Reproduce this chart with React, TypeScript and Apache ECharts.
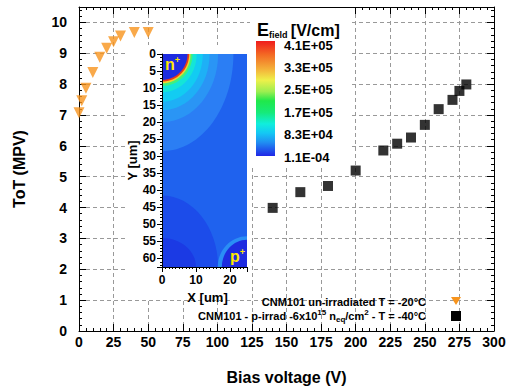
import React, { useEffect, useRef } from "react";
import * as echarts from "echarts";

// ---- main data ----
const unirrBias = [0, 2, 5, 10, 15, 20, 25, 30, 40, 50];
const unirrToT = [7.07, 7.46, 7.87, 8.38, 8.87, 9.16, 9.37, 9.56, 9.67, 9.67];

const irradBias = [140, 160, 180, 200, 220, 230, 240, 250, 260, 270, 275, 280];
const irradToT = [3.99, 4.5, 4.7, 5.2, 5.85, 6.07, 6.27, 6.68, 7.19, 7.49, 7.78, 7.99];

const legendNames = [
  "CNM101 un-irradiated T = -20°C",
  "CNM101 - p-irrad -6x10^15 n_eq/cm^2 - T = -40°C",
];

// ---- inset field map (contour regions: cx, cy, rx, ry, palette index) ----
const fieldPalette = [
  "#1f62ee", // 0 base
  "#2b7ef4", // 1 light blue
  "#2a95f5", // 2
  "#1eb0f6", // 3
  "#12ccf2", // 4 cyan
  "#14e5d8", // 5
  "#3ff07e", // 6 green
  "#f2d22e", // 7 yellow
  "#e83a18", // 8 red
  "#1e2ce0", // 9 dark core
  "#1c4cea", // 10 lower darker
  "#1b3ae4", // 11 lower deepest
  "#2a8ef5", // 12 p+ ring
];
const fieldRegions: number[][] = [
  [0, 62.5, 16.5, 21, 10],
  [0, 62.5, 10, 8.5, 11],
  [0, 0, 21, 28.5, 1],
  [0, 0, 16.5, 20, 2],
  [0, 0, 14, 16.5, 3],
  [0, 0, 12, 14, 4],
  [0, 0, 10.2, 11.2, 5],
  [0, 0, 9, 9.4, 6],
  [0, 0, 8.4, 8.6, 7],
  [0, 0, 8, 8.1, 8],
  [0, 0, 7.5, 7.6, 9],
  [25, 62.5, 8.6, 9, 12],
  [25, 62.5, 7.4, 8, 9],
];
const fieldExtent = [[0, 0, 25, 62.5]];

const colorbarLabels = ["4.1E+05", "3.3E+05", "2.5E+05", "1.7E+05", "8.3E+04", "1.1E-04"];

const FONT = "'Liberation Sans', Arial, Helvetica, sans-serif";

export default function App() {
  const ref = useRef<HTMLDivElement>(null);

  useEffect(() => {
    if (!ref.current) return;
    const chart = echarts.init(ref.current, null, { renderer: "svg" });

    const tickInside = (len: number) => ({ show: true, inside: true, length: len, lineStyle: { color: "#000" } });

    const mainAxisBase = {
      axisLine: { show: true, onZero: false, lineStyle: { color: "#000", width: 1 } },
    };

    // colorbar geometry
    const cbX = 256, cbY = 41, cbW = 19, cbH = 115;
    const cbTexts = colorbarLabels.map((t, i) => ({
      type: "text",
      x: 284,
      y: 45 + (i * (157 - 45)) / (colorbarLabels.length - 1),
      z: 5,
      style: {
        text: t,
        fill: "#000",
        font: `bold 13px ${FONT}`,
        textAlign: "left",
        textVerticalAlign: "middle",
      },
    }));

    const option: any = {
      animation: false,
      backgroundColor: "#fff",
      textStyle: { fontFamily: FONT },
      grid: [
        { left: 79, top: 7, width: 415, height: 330, containLabel: false },
        { left: 162, top: 54, width: 85, height: 213, containLabel: false },
      ],
      xAxis: [
        {
          ...mainAxisBase,
          type: "value",
          gridIndex: 0,
          min: 0,
          max: 300,
          interval: 25,
          name: "Bias voltage (V)",
          nameLocation: "middle",
          nameGap: 38,
          nameTextStyle: { fontSize: 16, fontWeight: "bold", color: "#000", fontFamily: FONT },
          axisTick: tickInside(7),
          minorTick: { show: true, splitNumber: 5, length: 3, lineStyle: { color: "#000" } },
          axisLabel: { fontSize: 14, fontWeight: "bold", color: "#000", margin: 4, fontFamily: FONT },
          splitLine: { show: true, lineStyle: { color: "#999", type: [4, 3], width: 1 } },
        },
        {
          ...mainAxisBase,
          type: "value",
          gridIndex: 0,
          position: "top",
          min: 0,
          max: 300,
          interval: 25,
          axisTick: tickInside(7),
          minorTick: { show: true, splitNumber: 5, length: 3, lineStyle: { color: "#000" } },
          axisLabel: { show: false },
          splitLine: { show: false },
        },
        {
          type: "value",
          gridIndex: 1,
          min: 0,
          max: 25,
          interval: 10,
          z: 4,
          name: "X [um]",
          nameLocation: "middle",
          nameGap: 21,
          nameTextStyle: { fontSize: 13, fontWeight: "bold", color: "#000", fontFamily: FONT, padding: [0, 0, 0, 6] },
          axisLine: { show: true, onZero: false, lineStyle: { color: "#000" } },
          axisTick: { show: true, inside: false, length: 5, lineStyle: { color: "#000" } },
          minorTick: { show: true, splitNumber: 10, length: 2, lineStyle: { color: "#000" } },
          axisLabel: {
            fontSize: 12,
            fontWeight: "bold",
            color: "#000",
            margin: 7,
            fontFamily: FONT,
            showMaxLabel: false,
            formatter: (v: number) => (v % 10 === 0 ? String(v) : ""),
          },
          splitLine: { show: false },
        },
      ],
      yAxis: [
        {
          ...mainAxisBase,
          type: "value",
          gridIndex: 0,
          min: 0,
          max: 10.5,
          interval: 1,
          name: "ToT (MPV)",
          nameLocation: "middle",
          nameGap: 52,
          nameTextStyle: { fontSize: 16, fontWeight: "bold", color: "#000", fontFamily: FONT },
          axisTick: tickInside(7),
          minorTick: { show: true, splitNumber: 5, length: 3, lineStyle: { color: "#000" } },
          axisLabel: {
            fontSize: 14,
            fontWeight: "bold",
            color: "#000",
            margin: 12,
            fontFamily: FONT,
            showMaxLabel: false,
            formatter: (v: number) => (Number.isInteger(v) ? String(v) : ""),
          },
          splitLine: { show: true, lineStyle: { color: "#999", type: [4, 3], width: 1 } },
        },
        {
          ...mainAxisBase,
          type: "value",
          gridIndex: 0,
          position: "right",
          min: 0,
          max: 10.5,
          interval: 1,
          axisTick: tickInside(7),
          minorTick: { show: true, splitNumber: 5, length: 3, lineStyle: { color: "#000" } },
          axisLabel: { show: false },
          splitLine: { show: false },
        },
        {
          type: "value",
          gridIndex: 1,
          min: 0,
          max: 62.5,
          interval: 5,
          inverse: true,
          z: 4,
          name: "Y [um]",
          nameLocation: "middle",
          nameGap: 21,
          nameTextStyle: { fontSize: 13, fontWeight: "bold", color: "#000", fontFamily: FONT },
          axisLine: { show: true, onZero: false, lineStyle: { color: "#000" } },
          axisTick: { show: true, inside: false, length: 5, lineStyle: { color: "#000" } },
          minorTick: { show: true, splitNumber: 5, length: 2, lineStyle: { color: "#000" } },
          axisLabel: {
            fontSize: 12,
            fontWeight: "bold",
            color: "#000",
            margin: 6,
            fontFamily: FONT,
            showMaxLabel: false,
            formatter: (v: number) => (v % 5 === 0 && v <= 60 ? String(v) : ""),
          },
          splitLine: { show: false },
        },
      ],
      series: [
        {
          name: legendNames[0],
          type: "scatter",
          xAxisIndex: 0,
          yAxisIndex: 0,
          symbol: "triangle",
          symbolRotate: 180,
          symbolSize: 11,
          itemStyle: { color: "#f7941d" },
          data: unirrBias.map((v, i) => [v, unirrToT[i]]),
          z: 6,
        },
        {
          name: legendNames[1],
          type: "scatter",
          xAxisIndex: 0,
          yAxisIndex: 0,
          symbol: "rect",
          symbolSize: 10,
          itemStyle: { color: "#000" },
          data: irradBias.map((v, i) => [v, irradToT[i]]),
          z: 6,
        },
        {
          type: "custom",
          xAxisIndex: 2,
          yAxisIndex: 2,
          clip: true,
          z: 3,
          silent: true,
          renderItem: (params: any, api: any) => {
            const p0 = api.coord([api.value(0), api.value(1)]);
            const p1 = api.coord([api.value(2), api.value(3)]);
            return {
              type: "rect",
              shape: {
                x: Math.min(p0[0], p1[0]),
                y: Math.min(p0[1], p1[1]),
                width: Math.abs(p1[0] - p0[0]),
                height: Math.abs(p1[1] - p0[1]),
              },
              style: { fill: fieldPalette[0] },
            };
          },
          data: fieldExtent,
        },
        {
          type: "custom",
          xAxisIndex: 2,
          yAxisIndex: 2,
          clip: true,
          z: 3,
          silent: true,
          renderItem: (params: any, api: any) => {
            const c = api.coord([api.value(0), api.value(1)]);
            const s = api.size([api.value(2), api.value(3)]);
            return {
              type: "ellipse",
              shape: { cx: c[0], cy: c[1], rx: Math.abs(s[0]), ry: Math.abs(s[1]) },
              style: { fill: fieldPalette[api.value(4)] },
            };
          },
          data: fieldRegions,
        },
      ],
      graphic: [
        // white pads hiding grid lines under inset and colour bar
        { type: "rect", z: 1, shape: { x: 127, y: 45, width: 124, height: 253 }, style: { fill: "#fff" } },
        { type: "rect", z: 1, shape: { x: 250, y: 8, width: 100, height: 157 }, style: { fill: "#fff" } },
        // colour bar
        {
          type: "rect",
          z: 5,
          shape: { x: cbX, y: cbY, width: cbW, height: cbH },
          style: {
            fill: new echarts.graphic.LinearGradient(0, 0, 0, 1, [
              { offset: 0, color: "#f01c1c" },
              { offset: 0.12, color: "#f36a24" },
              { offset: 0.25, color: "#f4b43a" },
              { offset: 0.34, color: "#eef04a" },
              { offset: 0.44, color: "#9cee50" },
              { offset: 0.52, color: "#20e84a" },
              { offset: 0.62, color: "#16ea78" },
              { offset: 0.72, color: "#10eedc" },
              { offset: 0.8, color: "#14c8f4" },
              { offset: 0.88, color: "#2090f2" },
              { offset: 1, color: "#2026e6" },
            ]),
          },
        },
        ...cbTexts,
        {
          type: "text",
          x: 257,
          y: 30,
          z: 5,
          style: {
            text: "{e|E}{s|field} {u|[V/cm]}",
            textVerticalAlign: "middle",
            rich: {
              e: { font: `bold 18px ${FONT}`, fill: "#000" },
              s: { font: `bold 9px ${FONT}`, fill: "#000", padding: [10, 0, 0, 0] },
              u: { font: `bold 16px ${FONT}`, fill: "#000" },
            },
          },
        },
        // n+ / p+ labels
        {
          type: "text",
          x: 165,
          y: 64,
          z: 6,
          style: {
            text: "{b|n}{s|+}",
            textVerticalAlign: "middle",
            rich: {
              b: { font: `bold 16px ${FONT}`, fill: "#ffe800" },
              s: { font: `bold 9px ${FONT}`, fill: "#ffe800", padding: [0, 0, 8, 0] },
            },
          },
        },
        {
          type: "text",
          x: 230,
          y: 256,
          z: 6,
          style: {
            text: "{b|p}{s|+}",
            textVerticalAlign: "middle",
            rich: {
              b: { font: `bold 16px ${FONT}`, fill: "#ffe800" },
              s: { font: `bold 9px ${FONT}`, fill: "#ffe800", padding: [0, 0, 8, 0] },
            },
          },
        },
        // legend
        {
          type: "text",
          x: 426,
          y: 302,
          z: 6,
          style: {
            text: legendNames[0],
            font: `bold 11px ${FONT}`,
            fill: "#000",
            textAlign: "right",
            textVerticalAlign: "middle",
          },
        },
        {
          type: "polygon",
          z: 6,
          shape: { points: [[451, 297], [461, 297], [456, 305]] },
          style: { fill: "#f7941d" },
        },
        {
          type: "text",
          x: 426,
          y: 316,
          z: 6,
          style: {
            text: "{t|CNM101 - p-irrad -6x10}{p|15}{t| n}{b|eq}{t|/cm}{p|2}{t| - T = -40°C}",
            textAlign: "right",
            textVerticalAlign: "middle",
            rich: {
              t: { font: `bold 11px ${FONT}`, fill: "#000" },
              p: { font: `bold 8px ${FONT}`, fill: "#000", padding: [0, 0, 8, 0] },
              b: { font: `bold 8px ${FONT}`, fill: "#000", padding: [7, 0, 0, 0] },
            },
          },
        },
        {
          type: "rect",
          z: 6,
          shape: { x: 451, y: 311, width: 10, height: 10 },
          style: { fill: "#000" },
        },
      ],
    };

    chart.setOption(option);
    return () => chart.dispose();
  }, []);

  return (
    <div
      ref={ref}
      style={{ position: "fixed", left: 0, top: 0, width: 511, height: 390, background: "#fff" }}
    />
  );
}
